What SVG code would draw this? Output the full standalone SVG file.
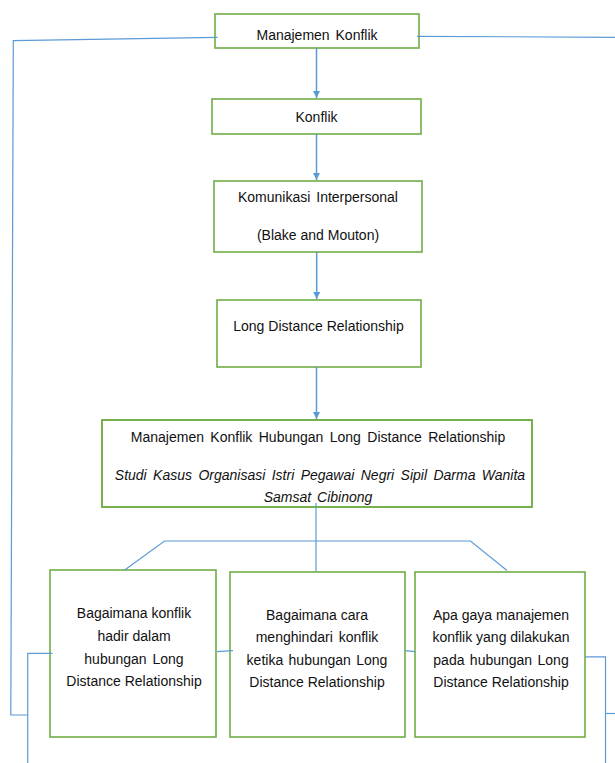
<svg xmlns="http://www.w3.org/2000/svg" width="615" height="763" viewBox="0 0 615 763">
<style>
.box{fill:#fff;stroke:#70AD47;stroke-width:1.6}
.edge{fill:none;stroke:#5B9BD5;stroke-width:1.2}
.arr{fill:none;stroke:#5B9BD5;stroke-width:1.5}
text{font-family:"Liberation Sans",Arial,sans-serif;font-size:14px;fill:#111;text-anchor:middle}
.it{font-style:italic}
</style>
<defs>
<marker id="ah" viewBox="0 0 10 10" refX="10" refY="5" markerWidth="7" markerHeight="7" markerUnits="userSpaceOnUse" orient="auto">
<path d="M0,0 L10,5 L0,10 z" fill="#5B9BD5"/>
</marker>
</defs>
<rect width="615" height="763" fill="#fff"/>
<g id="n1"><rect class="box" x="215" y="14" width="204" height="34"/><text x="317" y="40" word-spacing="2">Manajemen Konflik</text></g>
<g id="n2"><rect class="box" x="212" y="99" width="209" height="35"/><text x="316.5" y="121.5">Konflik</text></g>
<g id="n3"><rect class="box" x="214" y="181" width="208" height="71"/><text x="318" y="202" word-spacing="2">Komunikasi Interpersonal</text><text x="318" y="240">(Blake and Mouton)</text></g>
<g id="n4"><rect class="box" x="217" y="300" width="204" height="67"/><text x="318.5" y="331">Long Distance Relationship</text></g>
<g id="n5"><rect class="box" x="102" y="420" width="430" height="87"/><text x="318" y="441.5" word-spacing="2.5">Manajemen Konflik Hubungan Long Distance Relationship</text><text class="it" x="320" y="480" word-spacing="2.5">Studi Kasus Organisasi Istri Pegawai Negri Sipil Darma Wanita</text><text class="it" x="318" y="502" word-spacing="2">Samsat Cibinong</text><rect x="102" y="420" width="430" height="87" fill="none" stroke="#70AD47" stroke-width="1.6"/></g>
<g id="n6"><rect class="box" x="50" y="570" width="166" height="167"/><text x="134" y="618">Bagaimana konflik</text><text x="134" y="641">hadir dalam</text><text x="134" y="663.5" word-spacing="2">hubungan Long</text><text x="134" y="686">Distance Relationship</text></g>
<g id="n7"><rect class="box" x="230" y="572" width="175" height="165"/><text x="317" y="619.5">Bagaimana cara</text><text x="317" y="642" word-spacing="2">menghindari konflik</text><text x="317" y="664.5" word-spacing="1.5">ketika hubungan Long</text><text x="317" y="687">Distance Relationship</text></g>
<g id="n8"><rect class="box" x="415" y="572" width="170" height="165"/><text x="501" y="619.5">Apa gaya manajemen</text><text x="501" y="642">konflik yang dilakukan</text><text x="501" y="664.5" word-spacing="1.5">pada hubungan Long</text><text x="501" y="687">Distance Relationship</text></g>
<g id="connectors">
<line class="arr" x1="316.5" y1="48" x2="316.5" y2="98" marker-end="url(#ah)"/>
<line class="arr" x1="316.5" y1="134" x2="316.5" y2="180" marker-end="url(#ah)"/>
<line class="arr" x1="316.7" y1="252" x2="316.7" y2="299" marker-end="url(#ah)"/>
<line class="arr" x1="316.5" y1="367" x2="316.5" y2="419" marker-end="url(#ah)"/>
<polyline class="edge" points="217.5,37.3 13.3,40.7 10.8,715 28,715"/>
<line class="edge" x1="417" y1="36.3" x2="615" y2="37.3"/>
<line class="edge" x1="316" y1="503" x2="316" y2="571.5"/>
<polyline class="edge" points="124.7,570 164.5,541 470.5,541 507,570.5"/>
<polyline class="edge" points="52.5,653.3 27.7,653.3 27.7,763"/>
<line class="edge" x1="217" y1="651.7" x2="233" y2="650.7"/>
<line class="edge" x1="405" y1="650.7" x2="415" y2="651.7"/>
<polyline class="edge" points="585,656.8 605.5,656.8 605.5,763"/>
<line class="edge" x1="605.5" y1="713.5" x2="615" y2="713.5"/>
</g>
</svg>
